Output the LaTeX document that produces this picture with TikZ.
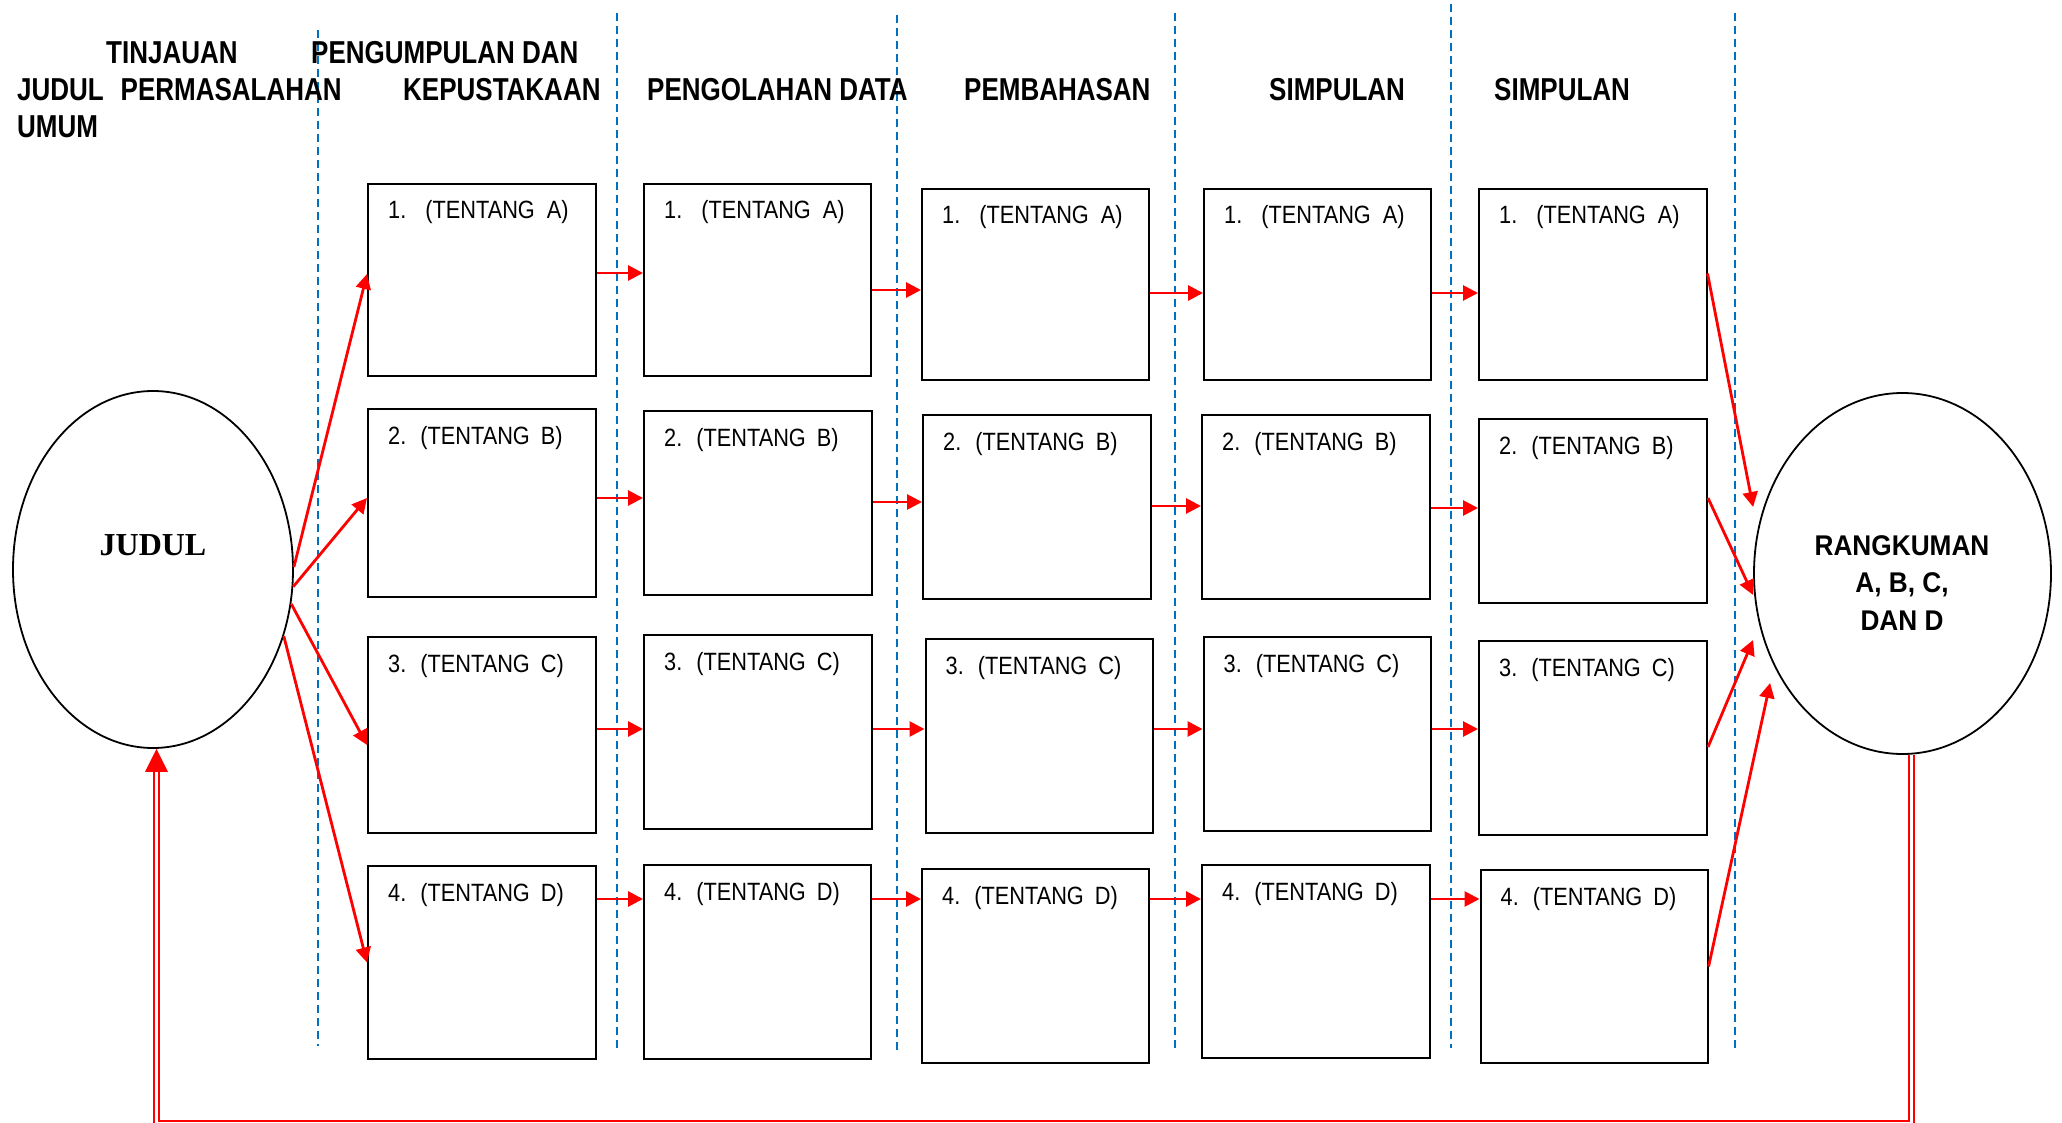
\documentclass[tikz,border=0pt]{standalone}
\usepackage{fontspec}
\usetikzlibrary{shapes.geometric,arrows.meta}
\newfontfamily\hdrfont[FakeStretch=0.82]{Liberation Sans}
\newfontfamily\bxfont[FakeStretch=0.87]{Liberation Sans}
\newfontfamily\rkfont[FakeStretch=0.92]{Liberation Sans}
\newfontfamily\jdfont{Liberation Serif}
\definecolor{dblue}{RGB}{0,112,192}
\tikzset{
 boxst/.style={draw=black, line width=2pt, rectangle, inner sep=0pt, fill=white},
 txtst/.style={font={\bxfont\fontsize{25}{29}\selectfont}, anchor=base west, inner sep=0pt},
 hdrst/.style={font={\hdrfont\bfseries\fontsize{31.7}{38}\selectfont}, anchor=base west, inner sep=0pt},
 ellst/.style={draw=black, line width=1.8pt, ellipse, inner sep=0pt},
 arr/.style={draw=red, line width=2.8pt, -{Triangle[length=15pt,width=15pt]}},
 dsh/.style={draw=dblue, line width=2pt, dash pattern=on 8pt off 5pt},
 dbl/.style={draw=red, line width=1.7pt, double=white, double distance=3.3pt},
}
\newcommand\mkbox[6]{%
 \node[boxst, minimum width={(#4-#2)*1pt}, minimum height={(#5-#3)*1pt}] (#1) at ({(#2+#4)/2},{(#3+#5)/2}) {};
 \node[txtst] (#1t) at ([xshift=21pt,yshift=-36pt]#1.north west) {#6};}
\newcommand\hconn[3]{\coordinate (hy) at (0,#3); \draw[arr] (#1.east |- hy) -- (#2.west |- hy);}
\newcommand\tfirst[2]{#1.\hspace{19pt}(TENTANG\hspace{12pt}#2)}
\newcommand\tother[2]{#1.\hspace{14pt}(TENTANG\hspace{11pt}#2)}
\begin{document}
\begin{tikzpicture}[x=1pt,y=-1pt]
\useasboundingbox (0,0) rectangle (2062,1123);
% dashed separators
\foreach \x/\a/\b in {318/30/1046, 617/13/1050, 897/15/1050, 1175/13/1050, 1451/4/1048, 1735/13/1050}
  \draw[dsh] (\x,\a) -- (\x,\b);
% headers
\node[hdrst] (h1) at (106,64) {TINJAUAN};
\node[hdrst] (h2) at (311,64) {PENGUMPULAN DAN};
\node[hdrst] (h3) at (17,101) {JUDUL};
\node[hdrst] (h4) at (120.5,101) {PERMASALAHAN};
\node[hdrst] (h5) at (403,101) {KEPUSTAKAAN};
\node[hdrst] (h6) at (17,138) {UMUM};
\node[hdrst] (h7) at (647,101) {PENGOLAHAN DATA};
\node[hdrst] (h8) at (964,101) {PEMBAHASAN};
\node[hdrst] (h9) at (1269,101) {SIMPULAN};
\node[hdrst] (h10) at (1494,101) {SIMPULAN};
% boxes
\mkbox{b11}{368}{184}{596}{376}{\tfirst{1}{A}}
\mkbox{b12}{644}{184}{871}{376}{\tfirst{1}{A}}
\mkbox{b13}{922}{189}{1149}{380}{\tfirst{1}{A}}
\mkbox{b14}{1204}{189}{1431}{380}{\tfirst{1}{A}}
\mkbox{b15}{1479}{189}{1706.5}{380}{\tfirst{1}{A}}
\mkbox{b21}{368}{409}{596}{597}{\tother{2}{B}}
\mkbox{b22}{644}{411}{872}{595}{\tother{2}{B}}
\mkbox{b23}{923}{415}{1151}{599}{\tother{2}{B}}
\mkbox{b24}{1202}{415}{1429.5}{599}{\tother{2}{B}}
\mkbox{b25}{1479}{419}{1707}{603}{\tother{2}{B}}
\mkbox{b31}{368}{637}{596}{833}{\tother{3}{C}}
\mkbox{b32}{644}{635}{872}{829}{\tother{3}{C}}
\mkbox{b33}{925.5}{639}{1153}{833}{\tother{3}{C}}
\mkbox{b34}{1203.5}{637}{1430.6}{831}{\tother{3}{C}}
\mkbox{b35}{1479}{641}{1707}{835}{\tother{3}{C}}
\mkbox{b41}{368}{866}{596}{1059}{\tother{4}{D}}
\mkbox{b42}{644}{865}{871}{1059}{\tother{4}{D}}
\mkbox{b43}{922}{869}{1149}{1063}{\tother{4}{D}}
\mkbox{b44}{1202}{865}{1429.5}{1058}{\tother{4}{D}}
\mkbox{b45}{1480.5}{870}{1707.6}{1063}{\tother{4}{D}}
% ellipses
\node[ellst, minimum width=280pt, minimum height=357pt] (judul) at (153,569.5) {};
\node[font={\jdfont\bfseries\fontsize{32}{38}\selectfont}, anchor=base, inner sep=0pt] (judult) at (153,555) {JUDUL};
\node[ellst, minimum width=297pt, minimum height=361pt] (rangk) at (1902.5,573.5) {};
\node[font={\rkfont\bfseries\fontsize{28.5}{37.5}\selectfont}, align=center, anchor=north, inner sep=0pt] (rangkt) at (1902,535) {RANGKUMAN\\A, B, C,\\DAN D};
% arrows from JUDUL
\draw[arr] (judul.1) -- ([yshift=6pt]b11.west);
\draw[arr] (judul.-7) -- ([yshift=5pt]b21.west);
\draw[arr] (judul.-14) -- ([yshift=-10pt]b31.west);
\draw[arr] (judul.-27) -- (b41.west);
% horizontal arrows
\hconn{b11}{b12}{273} \hconn{b12}{b13}{290} \hconn{b13}{b14}{293} \hconn{b14}{b15}{293}
\hconn{b21}{b22}{498} \hconn{b22}{b23}{502} \hconn{b23}{b24}{506} \hconn{b24}{b25}{508}
\hconn{b31}{b32}{729} \hconn{b32}{b33}{729} \hconn{b33}{b34}{729} \hconn{b34}{b35}{729}
\hconn{b41}{b42}{899} \hconn{b42}{b43}{899} \hconn{b43}{b44}{899} \hconn{b44}{b45}{899}
% arrows to RANGKUMAN
\draw[arr] ([yshift=11pt]b15.east) -- ([yshift=66.5pt]rangk.west);
\draw[arr] ([yshift=13pt]b25.east) -- ([yshift=-21.5pt]rangk.west);
\draw[arr] ([yshift=-9pt]b35.east) -- ([yshift=-66.5pt]rangk.west);
\draw[arr] (b45.east) -- ([xshift=17pt,yshift=-109.5pt]rangk.west);
% feedback loop
\coordinate (bot) at (0,1123.5);
\draw[dbl] ([xshift=9pt]rangk.south) -- ([xshift=9pt]rangk.south |- bot) -- ([xshift=3.5pt]judul.south |- bot) -- ([xshift=3.5pt,yshift=-22pt]judul.south);
\fill[red] ([xshift=3.5pt]judul.south) -- ++(-11.5,23) -- ++(23,0) -- cycle;
\end{tikzpicture}
\end{document}
